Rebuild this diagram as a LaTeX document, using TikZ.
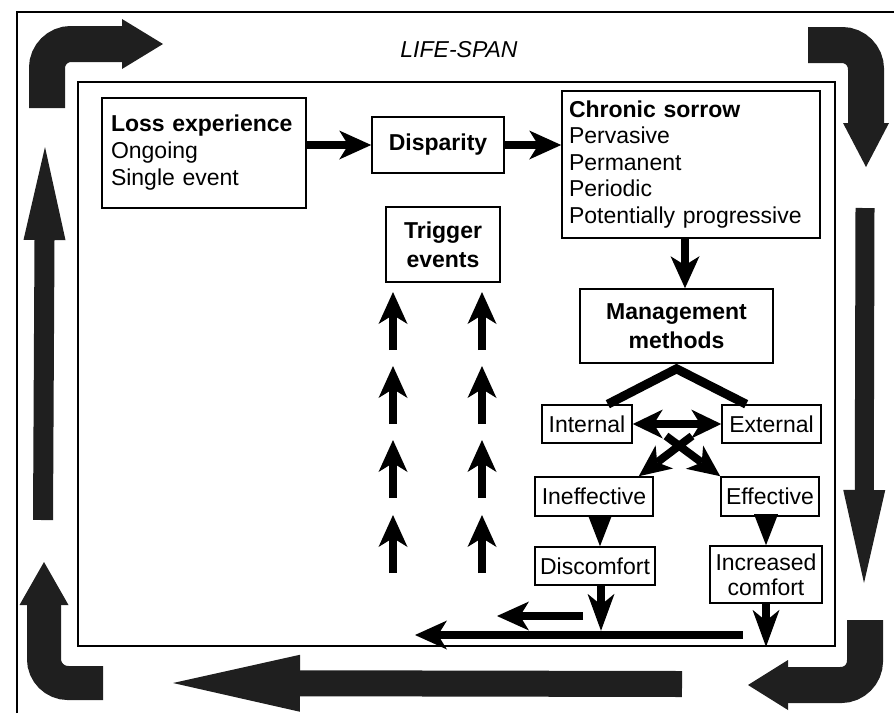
\documentclass[tikz,border=0pt]{standalone}
\usepackage{fontspec}
\setmainfont{Liberation Sans}
\usepackage{tikz}
\usetikzlibrary{arrows.meta}
\usetikzlibrary{positioning}

\begin{document}
\begin{tikzpicture}[x=1pt,y=-1pt,font=\fontsize{23}{27}\selectfont]
      \tikzstyle{box}=[draw=black,line width=1.6pt,fill=white,inner sep=3pt,align=center]
      \tikzstyle{frame}=[draw=black,line width=1.8pt]
      \tikzstyle{flow}=[line width=8pt,-{Stealth[length=32pt,width=29pt,inset=9pt,line width=0pt]}]
      \tikzstyle{both}=[line width=8pt,{Stealth[length=30pt,width=29pt,inset=9pt,line width=0pt]}-{Stealth[length=30pt,width=29pt,inset=9pt,line width=0pt]}]
      \tikzstyle{drop}=[line width=8pt,-{Stealth[length=37pt,width=27pt,inset=11pt,line width=0pt]}]
      \tikzstyle{wedge}=[line width=2pt,-{Triangle[length=31pt,width=24pt,line width=0pt]}]
      \tikzstyle{band}=[draw=black!88,line cap=butt,rounded corners=24pt]
      \useasboundingbox (0,0) rectangle (894,713);
      % frames
      \draw[frame] (17,713) -- (17,12) -- (894,12);
      \draw[frame] (78,82) rectangle (835,646);
      \node (span) at (459,50) {\itshape LIFE-SPAN};
      % boxes
      \node[box,text width=186pt,align=left,minimum height=110pt,inner xsep=9pt] (loss) at (204,153) {\textbf{Loss experience}\\Ongoing\\Single event};
      \node[box,minimum width=132pt,minimum height=56pt] (disp) at (438,145) {\textbf{Disparity}};
      \node[box,text width=244pt,align=left,minimum height=147pt,inner xsep=7pt,font=\fontsize{23}{26.5}\selectfont] (chronic) at (691,164.5) {\textbf{Chronic sorrow}\\Pervasive\\Permanent\\Periodic\\Potentially progressive};
      \node[box,minimum width=114pt,minimum height=75pt,font=\fontsize{23}{29}\selectfont\bfseries] (trigger) at (443,244.5) {Trigger\\events};
      \node[box,minimum width=193pt,minimum height=74pt,font=\fontsize{23}{29}\selectfont\bfseries] (mgmt) at (676.5,326) {Management\\methods};
      \node[box,minimum width=90pt,minimum height=38pt] (int) at (587,424) {Internal};
      \node[box,minimum width=99pt,minimum height=38pt] (ext) at (771.5,424) {External};
      \node[box,minimum width=118pt,minimum height=39pt] (ineff) at (594,496.5) {Ineffective};
      \node[box,minimum width=98pt,minimum height=39pt] (eff) at (770,496.5) {Effective};
      \node[box,minimum width=120pt,minimum height=38pt] (discomf) at (595,566) {Discomfort};
      \node[box,minimum width=112pt,minimum height=57pt,font=\fontsize{23}{25}\selectfont] (incr) at (766,574.5) {Increased\\comfort};
      % inner connectors
      \draw[flow] (loss.east |- disp.west) -- (disp.west);
      \draw[flow] (disp.east) -- (disp.east -| chronic.west);
      \draw[flow] ([xshift=-6pt]chronic.south) -- ([xshift=-6pt]chronic.south |- mgmt.north);
      \draw[line width=9pt] ([xshift=-25pt]int.north east) -- ([yshift=-5pt]mgmt.south) -- ([xshift=25pt]ext.north west);
      \draw[both] (int.east) -- (ext.west);
      \coordinate (xa) at (692,436);
      \coordinate (xb) at (666,436);
      \draw[flow] (xa) -- ([xshift=-15pt]ineff.north east);
      \draw[flow] (xb) -- (eff.north west);
      \draw[wedge] ([xshift=6pt]ineff.south) -- ([xshift=6pt]ineff.south |- discomf.north);
      \draw[wedge] ([xshift=-4pt]eff.south) -- ([xshift=-4pt]eff.south |- incr.north);
      \coordinate[below=45pt of discomf.south] (dout);
      \coordinate[below=43pt of incr.south] (iout);
      \draw[drop] ([xshift=6pt]discomf.south) -- ([xshift=6pt]dout);
      \draw[drop] (incr.south) -- (iout);
      \coordinate (r1a) at (583,616);
      \coordinate (r1b) at (497,616);
      \coordinate (r2a) at (743,635);
      \coordinate (r2b) at (415,635);
      \draw[flow] (r1a) -- (r1b);
      \draw[flow] (r2a) -- (r2b);
      \foreach \x in {393,482}
        \foreach \y in {292,366,440,515}
        {
          \coordinate (tip) at (\x,\y);
          \coordinate (tail) at (\x,\y+58);
          \draw[flow] (tail) -- (tip);
        }
      % life-span arrows
      \coordinate (tl1) at (47,108);
      \coordinate (tl2) at (163,44);
      \coordinate (tr1) at (808,45);
      \coordinate (tr2) at (866,167);
      \coordinate (rs1) at (865,208);
      \coordinate (rs2) at (864,583);
      \coordinate (br1) at (865,620);
      \coordinate (br2) at (748,685);
      \coordinate (bs1) at (682,684);
      \coordinate (bs2) at (173,683);
      \coordinate (bl1) at (103,683);
      \coordinate (bl2) at (44,562);
      \coordinate (ls1) at (43,520);
      \coordinate (ls2) at (45,147);
      \draw[band,line width=36pt,-{Triangle[length=41pt,width=50pt,line width=0pt]}] (tl1) |- (tl2);
      \draw[band,line width=36pt,-{Triangle[length=44pt,width=46pt,line width=0pt]}] (tr1) -| (tr2);
      \draw[band,line width=19pt,-{Triangle[length=93pt,width=42pt,line width=0pt]}] (rs1) -- (rs2);
      \draw[band,line width=36pt,-{Triangle[length=40pt,width=50pt,line width=0pt]}] (br1) |- (br2);
      \draw[band,line width=26pt,-{Triangle[length=127pt,width=57pt,line width=0pt]}] (bs1) -- (bs2);
      \draw[band,line width=34pt,-{Triangle[length=43pt,width=49pt,line width=0pt]}] (bl1) -| (bl2);
      \draw[band,line width=20pt,-{Triangle[length=93pt,width=42pt,line width=0pt]}] (ls1) -- (ls2);
    \end{tikzpicture}
\end{document}
